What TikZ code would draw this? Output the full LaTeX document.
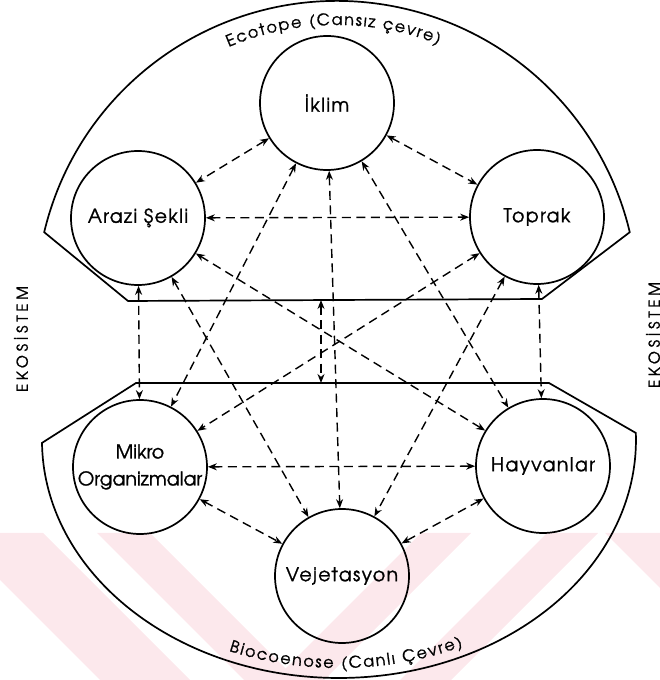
\documentclass[tikz,border=0pt]{standalone}
\usepackage{fontspec}
\setmainfont{TeX Gyre Adventor}[FakeBold=1.2]
\usetikzlibrary{arrows.meta,decorations.text}
\definecolor{wmpink}{RGB}{252,232,236}
\newcommand\lblfont{\fontsize{19}{27}\selectfont\addfontfeature{LetterSpace=7}}
\newcommand\lblfontB{\fontsize{19}{27}\selectfont}
\newcommand\arcfont{\fontsize{16}{16}\selectfont}
\begin{document}
\begin{tikzpicture}[x=1pt,y=1pt,
  comp/.style={draw, circle, line width=1.7pt, minimum size=134pt, inner sep=0pt, align=center, font=\lblfont},
  link/.style={line width=1.4pt, dash pattern=on 9pt off 5.5pt, {Stealth[length=9pt,width=7pt]}-{Stealth[length=9pt,width=7pt]}},
  region/.style={draw, line width=1.7pt, line join=miter},
  wm/.style={fill=wmpink, draw=none},
  side/.style={rotate=90, font=\fontsize{15}{15}\selectfont\addfontfeature{LetterSpace=25}}]
\useasboundingbox (0,0) rectangle (660,680);
\clip (0,0) rectangle (660,680);
% faint watermark stripes in the lower part
\begin{scope}
\clip (0,0) rectangle (660,147);
\fill[wm] (-47,147) -- (43,147) -- (190,0) -- (100,0) -- cycle;
\fill[wm] (97,147) -- (150,147) -- (297,0) -- (244,0) -- cycle;
\fill[wm] (421,147) -- (471,147) -- (324,0) -- (274,0) -- cycle;
\fill[wm] (547,147) -- (598,147) -- (451,0) -- (400,0) -- cycle;
\fill[wm] (605,147) -- (660,147) -- (807,0) -- (752,0) -- cycle;
\end{scope}
% regions
\draw[region] (128,379) -- (44.2,447.8) arc[start angle=166.6, end angle=13.4, radius=301] -- (542,381) -- cycle;
\draw[region] (136,297) -- (42,237.1) arc[start angle=180.7, end angle=361.7, x radius=297, y radius=238] -- (549,297) -- cycle;
% region labels
\path[decorate, decoration={text along path, text align=fit to path, text={|\arcfont|Ecotope (Cansız çevre)}}]
  (337,378) ++(113:277) arc[start angle=113, end angle=68.5, radius=277];
\path[decorate, decoration={text along path, text align=fit to path, text={|\arcfont|Biocoenose  (Canlı Çevre)}}]
  (339,240) ++({290*cos(247.7)},{228*sin(247.7)}) arc[start angle=247.7, end angle=295.3, x radius=290, y radius=228];
% components
\node[comp] (I) at (327,577) {İklim};
\node[comp] (A) at (138,462) {Arazi Şekli};
\node[comp] (T) at (537,463) {Toprak};
\node[comp, font=\lblfontB] (M) at (140,213) {Mikro\\Organizmalar};
\node[comp] (H) at (543,214) {Hayvanlar};
\node[comp] (V) at (342,104) {Vejetasyon};
% side labels
\node[side] (ekoL) at (21,341) {EKOSİSTEM};
\node[side] (ekoR) at (653,345) {EKOSİSTEM};
% connectors
\draw[link] (I) -- (A);
\draw[link] (I) -- (T);
\draw[link] (A) -- (T);
\draw[link] (M) -- (H);
\draw[link] (M) -- (V);
\draw[link] (H) -- (V);
\draw[link] (I) -- (V);
\draw[link] (I) -- (M);
\draw[link] (I) -- (H);
\draw[link] (A) -- (V);
\draw[link] (A) -- (H);
\draw[link] (T) -- (M);
\draw[link] (T) -- (V);
\draw[link] (A) -- (M);
\draw[link] (T) -- (H);
\coordinate (ecoB) at (321,380);
\coordinate (bioT) at (321,297);
\draw[link] (ecoB) -- (bioT);
\end{tikzpicture}
\end{document}
